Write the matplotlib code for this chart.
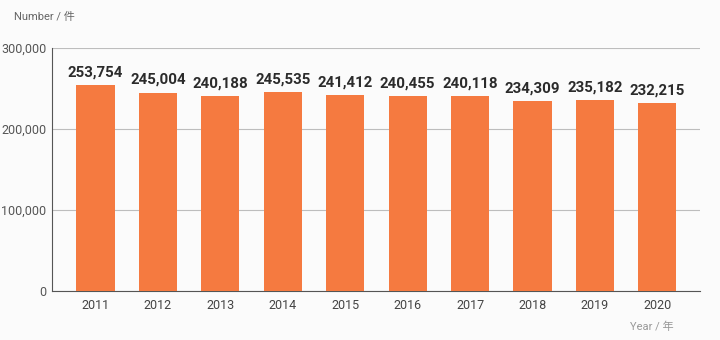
import matplotlib.pyplot as plt

years = ['2011', '2012', '2013', '2014', '2015', '2016', '2017', '2018', '2019', '2020']
counts = [253754, 245004, 240188, 245535, 241412, 240455, 240118, 234309, 235182, 232215]
yticks = [0, 100000, 200000, 300000]
ytick_labels = ['0', '100,000', '200,000', '300,000']

plt.rcParams['font.family'] = ['Roboto', 'Noto Sans CJK JP', 'DejaVu Sans']

fig = plt.figure(figsize=(7.2, 3.4), dpi=100, facecolor='#fbfbfb')
ax = fig.add_axes([0.072, 0.144, 0.900, 0.715])
ax.set_facecolor('#fbfbfb')

x = range(len(years))
ax.bar(x, counts, width=0.61, color='#f57a40', zorder=3)

# value labels
for xi, v in zip(x, counts):
    ax.text(xi, v + 7000, f'{v:,}', ha='center', va='bottom',
            fontsize=10.8, fontweight='bold', color='#2b2b2b', zorder=4)

ax.set_xlim(-0.7, 9.68)
ax.set_ylim(0, 300000)
ax.set_xticks(list(x))
ax.set_xticklabels(years, fontsize=9, color='#444444')
ax.set_yticks(yticks)
ax.set_yticklabels(ytick_labels, fontsize=9, color='#555555')
ax.tick_params(axis='x', length=0, pad=6)
ax.tick_params(axis='y', length=0, pad=4)

ax.grid(axis='y', color='#bdbdbd', linewidth=0.8, zorder=0)
for s in ['top', 'right']:
    ax.spines[s].set_visible(False)
ax.spines['left'].set_color('#555555')
ax.spines['bottom'].set_color('#555555')

fig.text(0.02, 0.95, 'Number / 件', fontsize=8, color='#666666', va='center')
fig.text(0.905, 0.04, 'Year / 年', fontsize=8, color='#999999', va='center', ha='center')

fig.savefig('out.png', dpi=100, facecolor=fig.get_facecolor())
